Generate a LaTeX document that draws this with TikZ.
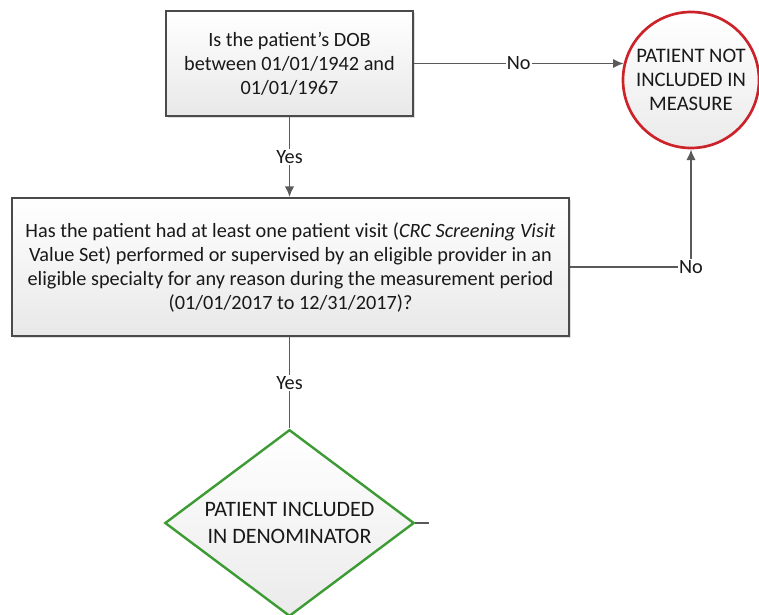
\documentclass[tikz,border=0pt]{standalone}
\usepackage{fontspec}
\setmainfont{Carlito}
\usetikzlibrary{shapes.geometric,arrows.meta,shadows}

\definecolor{boxline}{HTML}{4A4A4A}
\definecolor{flowline}{HTML}{5A5A5A}
\definecolor{outred}{HTML}{CC2229}
\definecolor{ingreen}{HTML}{3C9B32}

\begin{document}
\begin{tikzpicture}[x=0.75pt,y=-0.75pt,
    every node/.style={font=\fontsize{15.2}{18}\selectfont,text=black!90},
    question/.style={draw=boxline,line width=1.3pt,align=center,
        top color=white,bottom color=black!9,
        drop shadow={shadow xshift=1.5pt,shadow yshift=-1.5pt,opacity=0.25}},
    notincl/.style={circle,draw=outred,line width=2pt,align=center,
        minimum size=102pt,inner sep=0pt,top color=white,bottom color=black!8,
        font=\fontsize{15.5}{18}\selectfont},
    incl/.style={diamond,aspect=1.33,draw=ingreen,line width=1.8pt,align=center,
        minimum width=187pt,minimum height=140pt,inner sep=0pt,
        top color=white,bottom color=black!8,
        font=\fontsize{16.5}{20}\selectfont},
    flow/.style={draw=flowline,line width=1.4pt},
    tip/.style={-{Latex[length=8pt,width=7pt]}},
    lbl/.style={fill=white,inner sep=1pt}]
  \useasboundingbox (0,0) rectangle (759,614);

  % the two questions
  \node[question,minimum width=185pt,minimum height=79pt] (dob) at (289.5,63.5)
    {Is the patient's DOB\\between 01/01/1942 and\\01/01/1967};
  \node[question,minimum width=418pt,minimum height=103.5pt] (visit) at (290.5,267)
    {Has the patient had at least one patient visit (\textit{CRC Screening Visit}\\
     Value Set) performed or supervised by an eligible provider in an\\
     eligible specialty for any reason during the measurement period\\
     (01/01/2017 to 12/31/2017)?};

  % outcomes
  \node[notincl] (excluded) at (691,80) {PATIENT NOT\\INCLUDED IN\\MEASURE};
  \node[incl] (denom) at (289.5,523) {PATIENT INCLUDED\\IN DENOMINATOR};

  % connectors
  \draw[flow,tip] (dob.east) -- node[lbl]{No} (dob.east -| excluded.166);
  \draw[flow,tip] (dob.south) -- node[lbl]{Yes} (dob.south |- visit.north);
  \coordinate (corner) at (excluded.south |- visit.east);
  \draw[flow,tip] (visit.east) -- (corner) node[lbl]{No} -- (excluded.south);
  \draw[flow] (visit.south -| dob.south) -- node[lbl]{Yes} (denom.north);
  \coordinate (stub) at ([xshift=10pt]denom.east);
  \draw[flow] (denom.east) -- (stub);
\end{tikzpicture}
\end{document}
